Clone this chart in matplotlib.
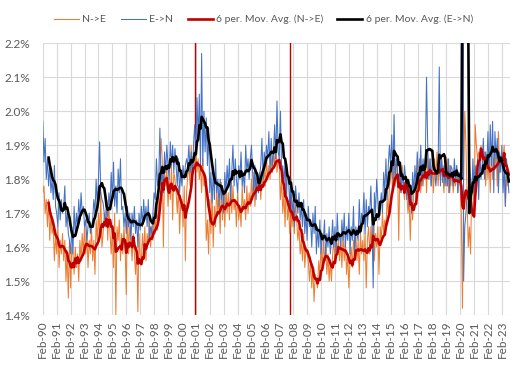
import matplotlib
matplotlib.use('Agg')
import matplotlib.pyplot as plt
import pandas as pd

# Monthly flow rates (%), Feb 1990 - Aug 2023, one row of 12 per year
ne_values = [
    1.76, 1.78, 1.70, 1.74, 1.66, 1.74, 1.62, 1.70, 1.64, 1.66, 1.56, 1.64,
    1.58, 1.66, 1.54, 1.62, 1.58, 1.64, 1.56, 1.62, 1.50, 1.59, 1.45, 1.62,
    1.48, 1.60, 1.58, 1.52, 1.60, 1.54, 1.58, 1.50, 1.62, 1.56, 1.64, 1.58,
    1.66, 1.58, 1.64, 1.54, 1.62, 1.58, 1.66, 1.56, 1.62, 1.52, 1.68, 1.62,
    1.70, 1.64, 1.76, 1.60, 1.64, 1.70, 1.66, 1.74, 1.62, 1.72, 1.64, 1.58,
    1.66, 1.54, 1.70, 1.40, 1.66, 1.62, 1.68, 1.56, 1.64, 1.58, 1.66, 1.60,
    1.46, 1.72, 1.58, 1.66, 1.62, 1.56, 1.64, 1.58, 1.52, 1.60, 1.41, 1.64,
    1.57, 1.56, 1.64, 1.58, 1.66, 1.56, 1.64, 1.61, 1.68, 1.60, 1.66, 1.62,
    1.70, 1.64, 1.72, 1.65, 1.76, 1.82, 1.92, 1.86, 1.60, 1.82, 1.78, 1.84,
    1.72, 1.80, 1.74, 1.84, 1.68, 1.82, 1.80, 1.76, 1.70, 1.78, 1.64, 1.74,
    1.74, 1.66, 1.78, 1.56, 1.76, 1.81, 1.84, 1.78, 1.90, 1.80, 1.86, 1.83,
    1.88, 1.82, 1.86, 1.80, 1.84, 1.76, 1.86, 1.78, 1.80, 1.62, 1.68, 1.58,
    1.74, 1.64, 1.76, 1.60, 1.72, 1.66, 1.78, 1.70, 1.74, 1.64, 1.79, 1.68,
    1.76, 1.66, 1.78, 1.70, 1.76, 1.68, 1.80, 1.70, 1.78, 1.71, 1.74, 1.66,
    1.76, 1.68, 1.72, 1.66, 1.78, 1.71, 1.74, 1.68, 1.78, 1.70, 1.76, 1.72,
    1.80, 1.74, 1.82, 1.72, 1.80, 1.77, 1.76, 1.82, 1.74, 1.80, 1.78, 1.84,
    1.78, 1.86, 1.80, 1.84, 1.80, 1.86, 1.82, 1.88, 1.84, 1.90, 1.82, 1.86,
    1.84, 1.74, 1.80, 1.70, 1.76, 1.66, 1.82, 1.68, 1.72, 1.64, 1.70, 1.66,
    1.72, 1.64, 1.74, 1.68, 1.62, 1.66, 1.58, 1.62, 1.56, 1.64, 1.54, 1.60,
    1.58, 1.56, 1.50, 1.56, 1.48, 1.54, 1.44, 1.52, 1.50, 1.48, 1.56, 1.52,
    1.60, 1.54, 1.62, 1.56, 1.60, 1.52, 1.58, 1.50, 1.56, 1.50, 1.58, 1.62,
    1.56, 1.64, 1.58, 1.62, 1.56, 1.62, 1.54, 1.64, 1.56, 1.62, 1.52, 1.58,
    1.48, 1.56, 1.60, 1.54, 1.62, 1.58, 1.64, 1.56, 1.62, 1.52, 1.64, 1.58,
    1.62, 1.56, 1.64, 1.48, 1.62, 1.66, 1.58, 1.66, 1.60, 1.68, 1.56, 1.64,
    1.60, 1.66, 1.52, 1.66, 1.62, 1.70, 1.64, 1.68, 1.66, 1.74, 1.70, 1.78,
    1.80, 1.84, 1.76, 1.86, 1.78, 1.80, 1.84, 1.62, 1.82, 1.76, 1.84, 1.78,
    1.74, 1.80, 1.76, 1.70, 1.74, 1.62, 1.76, 1.68, 1.76, 1.80, 1.74, 1.84,
    1.78, 1.86, 1.76, 1.84, 1.78, 1.82, 1.86, 1.76, 1.86, 1.80, 1.86, 1.78,
    1.84, 1.76, 1.86, 1.80, 1.88, 1.78, 1.84, 1.80, 1.86, 1.82, 1.76, 1.84,
    1.78, 1.86, 1.76, 1.84, 1.78, 1.82, 1.76, 1.80, 1.78, 1.84, 1.76, 1.82,
    1.78, 1.70, 1.42, 1.80, 2.00, 1.90, 1.74, 1.60, 1.66, 1.58, 1.78, 1.82,
    1.70, 1.96, 1.90, 1.86, 1.88, 1.84, 1.90, 1.86, 1.82, 1.88, 1.78, 1.86,
    1.80, 1.86, 1.76, 1.90, 1.80, 1.86, 1.83, 1.88, 1.78, 1.94, 1.82, 1.86,
    1.88, 1.86, 1.90, 1.72, 1.82, 1.78, 1.80,
]

en_values = [
    1.97, 1.85, 1.92, 1.80, 1.86, 1.78, 1.84, 1.76, 1.80, 1.74, 1.84, 1.72,
    1.70, 1.66, 1.76, 1.68, 1.74, 1.70, 1.72, 1.78, 1.66, 1.70, 1.64, 1.62,
    1.58, 1.66, 1.58, 1.72, 1.64, 1.70, 1.66, 1.74, 1.68, 1.76, 1.70, 1.72,
    1.66, 1.68, 1.62, 1.66, 1.70, 1.64, 1.66, 1.68, 1.74, 1.70, 1.80, 1.72,
    1.80, 1.91, 1.76, 1.74, 1.73, 1.70, 1.66, 1.74, 1.69, 1.76, 1.72, 1.82,
    1.74, 1.85, 1.72, 1.78, 1.70, 1.83, 1.76, 1.86, 1.71, 1.72, 1.66, 1.70,
    1.64, 1.72, 1.66, 1.70, 1.62, 1.70, 1.66, 1.72, 1.64, 1.68, 1.60, 1.70,
    1.65, 1.72, 1.66, 1.74, 1.68, 1.72, 1.66, 1.74, 1.62, 1.66, 1.64, 1.70,
    1.76, 1.74, 1.86, 1.78, 1.80, 1.95, 1.78, 1.84, 1.76, 1.88, 1.82, 1.90,
    1.84, 1.80, 1.91, 1.84, 1.90, 1.82, 1.89, 1.84, 1.78, 1.86, 1.76, 1.82,
    1.78, 1.84, 1.80, 1.84, 1.86, 1.84, 1.90, 1.82, 1.88, 1.80, 1.90, 1.96,
    1.88, 2.04, 1.92, 2.05, 1.84, 2.17, 1.84, 2.00, 1.88, 1.98, 1.84, 1.95,
    1.76, 1.82, 1.73, 1.82, 1.74, 1.86, 1.76, 1.80, 1.72, 1.80, 1.74, 1.78,
    1.70, 1.82, 1.76, 1.84, 1.78, 1.86, 1.74, 1.82, 1.90, 1.78, 1.86, 1.80,
    1.76, 1.84, 1.80, 1.88, 1.78, 1.82, 1.76, 1.90, 1.82, 1.86, 1.80, 1.86,
    1.90, 1.82, 1.76, 1.84, 1.74, 1.82, 1.76, 1.81, 1.84, 1.92, 1.80, 1.88,
    1.84, 1.90, 1.86, 1.94, 1.82, 1.92, 1.84, 1.88, 1.96, 1.86, 2.03, 1.88,
    1.86, 2.00, 1.82, 1.84, 1.78, 1.86, 1.74, 1.82, 1.80, 1.72, 1.80, 1.70,
    1.74, 1.66, 1.78, 1.74, 1.70, 1.76, 1.68, 1.72, 1.66, 1.74, 1.64, 1.70,
    1.62, 1.72, 1.66, 1.68, 1.60, 1.70, 1.64, 1.72, 1.58, 1.66, 1.60, 1.68,
    1.58, 1.64, 1.62, 1.68, 1.56, 1.64, 1.60, 1.66, 1.58, 1.62, 1.68, 1.60,
    1.66, 1.58, 1.70, 1.62, 1.64, 1.60, 1.68, 1.62, 1.70, 1.60, 1.66, 1.62,
    1.70, 1.58, 1.66, 1.62, 1.72, 1.58, 1.66, 1.64, 1.62, 1.74, 1.64, 1.70,
    1.68, 1.76, 1.64, 1.74, 1.66, 1.72, 1.70, 1.78, 1.66, 1.48, 1.76, 1.70,
    1.80, 1.74, 1.68, 1.72, 1.76, 1.70, 1.82, 1.76, 1.86, 1.74, 1.84, 1.90,
    1.84, 1.93, 1.80, 1.99, 1.80, 1.86, 1.82, 1.78, 1.84, 1.76, 1.82, 1.78,
    1.84, 1.80, 1.74, 1.80, 1.72, 1.78, 1.70, 1.82, 1.76, 1.84, 1.78, 1.88,
    1.82, 1.80, 1.90, 1.78, 1.86, 1.80, 1.87, 2.10, 1.90, 1.80, 1.86, 1.78,
    1.86, 1.84, 1.82, 1.78, 1.82, 1.84, 2.13, 1.78, 1.86, 1.79, 1.84, 1.78,
    1.84, 1.78, 1.86, 1.76, 1.84, 1.83, 1.78, 1.86, 1.80, 1.84, 1.76, 1.82,
    1.80, 1.78, 5.20, 1.50, 1.66, 1.70, 1.76, 1.74, 1.84, 1.80, 1.74, 1.86,
    1.76, 1.84, 1.78, 1.86, 1.74, 1.88, 1.80, 1.84, 1.92, 1.80, 1.88, 1.84,
    1.94, 1.82, 1.96, 1.84, 1.97, 1.76, 1.94, 1.86, 1.92, 1.76, 1.88, 1.82,
    1.90, 1.76, 1.84, 1.72, 1.86, 1.82, 1.76,
]

# months marked with red vertical lines
marker_months = ['2001-01', '2007-11']

window = 6
months = pd.date_range('1990-02-01', periods=len(ne_values), freq='MS')
df = pd.DataFrame({'ne': ne_values, 'en': en_values}, index=months)
df['ne_ma'] = df['ne'].rolling(window).mean()
df['en_ma'] = df['en'].rolling(window).mean()
x = list(range(len(df)))

plt.rcParams['font.family'] = ['Lato', 'DejaVu Sans']

fig = plt.figure(figsize=(5.22, 3.66), dpi=100)
ax = fig.add_axes([0.082, 0.139, 0.895, 0.743])

ax.plot(x, df['ne'], color='#ED7D31', lw=0.75, label='N->E')
ax.plot(x, df['en'], color='#4472C4', lw=0.75, label='E->N')
ax.plot(x, df['ne_ma'], color='#C00000', lw=1.9, label='6 per. Mov. Avg. (N->E)')
ax.plot(x, df['en_ma'], color='black', lw=1.9, label='6 per. Mov. Avg. (E->N)')

for m in marker_months:
    pos = months.get_loc(pd.Timestamp(m + '-01'))
    ax.axvline(pos, color='#C00000', lw=1.0, zorder=1.5)

ax.set_ylim(1.4, 2.2)
ax.set_xlim(0, len(df))
ax.set_yticks([1.4 + 0.1 * i for i in range(9)])
ax.set_yticklabels([f'{1.4 + 0.1 * i:.1f}%' for i in range(9)])
tick_pos = x[::12]
ax.set_xticks(tick_pos)
ax.set_xticklabels([months[i].strftime('%b-%y') for i in tick_pos], rotation=90)

ax.grid(True, color='#d9d9d9', lw=0.8)
ax.set_axisbelow(True)
for s in ax.spines.values():
    s.set_visible(False)
ax.tick_params(axis='both', length=0, labelsize=8.5, colors='#595959')
ax.tick_params(axis='y', pad=9)
ax.tick_params(axis='x', pad=4)

fig.legend(loc='upper center', bbox_to_anchor=(0.505, 0.985), ncol=4, frameon=False,
           fontsize=7.5, handlelength=2.4, handletextpad=0.3, columnspacing=1.4,
           labelcolor='#595959')

fig.savefig('out.png', dpi=100)
